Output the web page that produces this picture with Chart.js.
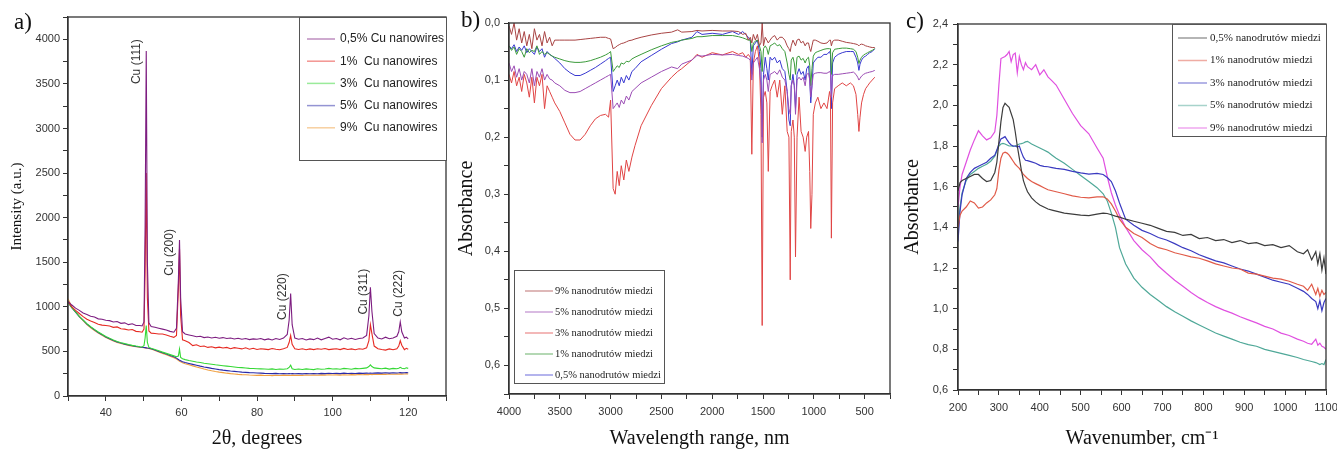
<!DOCTYPE html>
<html>
<head>
<meta charset="utf-8">
<script src="https://cdn.jsdelivr.net/npm/chart.js@4.4.1/dist/chart.umd.min.js"></script>
<style>
  html, body { margin: 0; padding: 0; background: #fff; }
  #wrap { position: relative; width: 1337px; height: 451px; overflow: hidden; }
  .panel { position: absolute; top: 0; height: 451px; }
  .tag { position: absolute; font-family: 'Liberation Serif', 'Times New Roman', serif; font-size: 23px; color: #111; }
</style>
</head>
<body>
<div id="wrap">
  <div class="panel" style="left:0;width:450px"><canvas id="chartA" width="450" height="451"></canvas></div>
  <div class="panel" style="left:450px;width:442px"><canvas id="chartB" width="442" height="451"></canvas></div>
  <div class="panel" style="left:890px;width:447px"><canvas id="chartC" width="447" height="451"></canvas></div>
  <div class="tag" style="left:14px;top:9px">a)</div>
  <div class="tag" style="left:461px;top:7px">b)</div>
  <div class="tag" style="left:906px;top:8px">c)</div>
</div>
<script>
// ---------- a) XRD ----------
const xrdAngle = [
  30, 31, 32, 33, 34, 35, 36, 37, 38, 39,
  40, 41, 42, 43, 44, 45, 46, 47, 48, 49,
  49.6, 50.1, 50.4, 50.7, 51.0, 51.4, 52, 53, 54, 55,
  56, 57, 58, 58.7, 59.2, 59.5, 59.8, 60.3, 61, 62,
  63, 64, 65, 66, 67, 68, 69, 70, 71, 72,
  73, 74, 75, 76, 77, 78, 79, 80, 81, 82,
  83, 84, 85, 86, 87, 88, 88.5, 88.9, 89.3, 90,
  91, 92, 93, 94, 95, 96, 97, 98, 99, 100,
  101, 102, 103, 104, 105, 106, 107, 108, 109, 109.6,
  110.0, 110.4, 111, 112, 113, 114, 115, 116, 117, 117.5,
  117.9, 118.3, 119, 119.5, 120
];
const xrd05 = [
  1060, 1020, 985, 960, 930, 915, 895, 885, 865, 860,
  850, 845, 830, 835, 815, 820, 800, 810, 790, 790,
  785, 830, 1900, 3870, 1500, 820, 780, 770, 760, 750,
  740, 725, 715, 760, 1300, 1750, 1100, 720, 695, 685,
  675, 665, 670, 655, 662, 650, 658, 648, 655, 645,
  650, 640, 648, 636, 645, 632, 640, 636, 644, 630,
  640, 628, 645, 634, 650, 690, 850, 1150, 800, 650,
  636, 645, 628, 640, 632, 650, 630, 645, 660, 636,
  645, 630, 652, 636, 648, 634, 644, 650, 680, 900,
  1220, 950, 700, 650, 640, 660, 642, 650, 670, 720,
  830, 720, 650, 660, 640
];
const xrd1 = [
  1060, 1000, 960, 925, 890, 860, 840, 825, 805, 795,
  790, 785, 770, 775, 755, 750, 740, 745, 725, 720,
  715, 750, 1400, 2500, 1100, 730, 705, 700, 695, 695,
  685, 670, 658, 680, 1200, 1650, 900, 630, 620, 600,
  565, 575, 555, 560, 545, 552, 540, 548, 538, 545,
  530, 542, 535, 528, 540, 525, 535, 522, 530, 526,
  520, 532, 524, 518, 530, 545, 600, 680, 580, 530,
  522, 530, 518, 528, 520, 530, 524, 532, 520, 526,
  530, 520, 534, 522, 528, 518, 530, 524, 540, 620,
  800, 700, 560, 530, 522, 515, 528, 518, 530, 560,
  620, 570, 520, 535, 525
];
const xrd3 = [
  1050, 992, 942, 893, 852, 812, 777, 747, 717, 692,
  667, 647, 627, 612, 598, 587, 577, 568, 560, 553,
  550, 565, 650, 790, 600, 545, 535, 522, 508, 492,
  478, 464, 450, 440, 448, 526, 432, 418, 408, 398,
  390, 382, 375, 368, 362, 356, 350, 345, 340, 335,
  330, 325, 320, 318, 314, 310, 308, 306, 304, 302,
  300, 304, 298, 302, 300, 305, 320, 345, 305, 298,
  302, 298, 304, 300, 296, 305, 300, 303, 310, 302,
  306, 300, 310, 305, 300, 310, 305, 310, 315, 330,
  350, 330, 315, 310, 305, 312, 302, 310, 306, 312,
  322, 312, 306, 316, 310
];
const xrd5 = [
  1050, 990, 940, 890, 850, 805, 772, 742, 712, 688,
  662, 642, 622, 606, 594, 582, 572, 563, 556, 549,
  546, 544, 542, 540, 538, 536, 530, 515, 500, 485,
  470, 455, 440, 425, 410, 400, 395, 385, 375, 365,
  355, 345, 335, 326, 318, 310, 303, 296, 290, 285,
  280, 276, 272, 268, 265, 262, 260, 258, 256, 254,
  253, 251, 254, 250, 252, 249, 253, 250, 252, 249,
  251, 248, 252, 249, 253, 250, 254, 251, 255, 252,
  254, 251, 256, 252, 255, 253, 257, 254, 256, 255,
  258, 255, 257, 259, 256, 260, 257, 261, 258, 260,
  262, 259, 261, 263, 260
];
const xrd9 = [
  1090, 1000, 945, 890, 845, 800, 765, 735, 705, 682,
  657, 637, 617, 601, 589, 578, 568, 559, 552, 546,
  543, 541, 539, 537, 535, 532, 526, 510, 494, 478,
  462, 446, 430, 415, 400, 390, 385, 373, 362, 350,
  338, 326, 314, 302, 292, 283, 275, 268, 262, 256,
  251, 247, 243, 240, 238, 235, 233, 231, 234, 230,
  232, 229, 233, 230, 234, 231, 233, 230, 234, 231,
  233, 230, 235, 232, 236, 233, 237, 234, 238, 235,
  237, 234, 239, 236, 240, 237, 241, 238, 242, 240,
  243, 240, 244, 241, 245, 243, 246, 244, 247, 245,
  248, 245, 247, 249, 247
];
const xrdPeaks = [
  { text: 'Cu (111)', x: 48.2, y: 3750 },
  { text: 'Cu (200)', x: 57.0, y: 1610 },
  { text: 'Cu (220)', x: 86.8, y: 1115 },
  { text: 'Cu (311)', x: 108.3, y: 1170 },
  { text: 'Cu (222)', x: 117.6, y: 1150 }
];

// ---------- b) FTIR ----------
const ftirWn = [
  4000, 3975, 3950, 3925, 3900, 3875, 3850, 3825, 3800, 3775,
  3750, 3725, 3700, 3675, 3650, 3625, 3600, 3575, 3550, 3500,
  3450, 3400, 3350, 3300, 3250, 3200, 3150, 3100, 3050, 3020,
  3000, 2975, 2955, 2935, 2915, 2895, 2870, 2845, 2820, 2790,
  2760, 2700, 2600, 2500, 2400, 2340, 2300, 2200, 2150, 2100,
  2000, 1900, 1800, 1740, 1700, 1670, 1645, 1625, 1610, 1595,
  1575, 1555, 1535, 1520, 1508, 1495, 1478, 1462, 1448, 1430,
  1410, 1385, 1360, 1335, 1310, 1285, 1262, 1245, 1232, 1222,
  1205, 1192, 1180, 1165, 1145, 1125, 1105, 1085, 1070, 1052,
  1040, 1030, 1018, 1005, 985, 960, 930, 900, 870, 845,
  836, 827, 815, 795, 760, 720, 680, 640, 610, 585,
  568, 556, 545, 530, 510, 490, 470, 450, 425, 400
];
const ftir9 = [
  0.005, 0.02, 0.0, 0.03, 0.01, 0.035, 0.015, 0.04, 0.02, 0.045,
  0.01, 0.03, 0.02, 0.04, 0.015, 0.035, 0.025, 0.04, 0.03, 0.03,
  0.03, 0.03, 0.03, 0.029, 0.028, 0.027, 0.026, 0.025, 0.025, 0.027,
  0.028, 0.045, 0.043, 0.04, 0.038, 0.036, 0.035, 0.033, 0.031, 0.03,
  0.028, 0.025, 0.021, 0.018, 0.016, 0.012, 0.016, 0.015, 0.013, 0.014,
  0.013, 0.014, 0.014, 0.015, 0.02, 0.018, 0.03, 0.025, 0.035, 0.02,
  0.03, 0.02, 0.04, 0.035, 0.0, 0.04, 0.025, 0.03, 0.035, 0.03,
  0.025, 0.022, 0.03, 0.025, 0.025, 0.03, 0.04, 0.045, 0.05, 0.04,
  0.03, 0.035, 0.04, 0.03, 0.028, 0.035, 0.032, 0.04, 0.035, 0.035,
  0.045, 0.05, 0.04, 0.03, 0.03, 0.032, 0.035, 0.036, 0.035, 0.03,
  0.03, 0.04, 0.032, 0.03, 0.03, 0.032, 0.034, 0.035, 0.036, 0.037,
  0.038, 0.04, 0.038, 0.037, 0.038, 0.04, 0.041, 0.042, 0.043, 0.043
];
const ftir5 = [
  0.07, 0.085, 0.075, 0.095, 0.08, 0.1, 0.085, 0.09, 0.105, 0.08,
  0.11, 0.085, 0.095, 0.08, 0.1, 0.09, 0.098, 0.1, 0.105, 0.11,
  0.118, 0.122, 0.122, 0.12, 0.115, 0.11, 0.105, 0.1, 0.095, 0.092,
  0.09, 0.15, 0.145, 0.14, 0.148, 0.135, 0.142, 0.128, 0.135, 0.12,
  0.115, 0.105, 0.095, 0.085, 0.077, 0.08, 0.072, 0.065, 0.057, 0.058,
  0.055, 0.056, 0.055, 0.057, 0.058, 0.06, 0.062, 0.065, 0.1, 0.07,
  0.065, 0.06, 0.08, 0.11, 0.21, 0.1, 0.09, 0.1, 0.12, 0.09,
  0.088, 0.085, 0.09, 0.082, 0.095, 0.1, 0.12, 0.15, 0.16, 0.11,
  0.1, 0.11, 0.16, 0.1, 0.095, 0.1, 0.095, 0.11, 0.09, 0.088,
  0.1, 0.13, 0.11, 0.09, 0.088, 0.087, 0.087, 0.088, 0.088, 0.085,
  0.088, 0.13, 0.092, 0.09, 0.09, 0.089, 0.088, 0.087, 0.086, 0.09,
  0.095, 0.1, 0.097, 0.093, 0.09, 0.088, 0.087, 0.086, 0.085, 0.083
];
const ftir3 = [
  0.09, 0.105, 0.085, 0.11, 0.095, 0.12, 0.09, 0.105, 0.13, 0.095,
  0.14, 0.095, 0.11, 0.09, 0.15, 0.11, 0.12, 0.13, 0.14, 0.155,
  0.175, 0.195, 0.205, 0.205, 0.195, 0.18, 0.168, 0.162, 0.16, 0.165,
  0.135, 0.29, 0.30, 0.26, 0.285, 0.25, 0.275, 0.24, 0.26, 0.235,
  0.215, 0.18, 0.145, 0.115, 0.095, 0.085, 0.08, 0.065, 0.055, 0.06,
  0.052, 0.056, 0.05, 0.055, 0.052, 0.06, 0.055, 0.06, 0.23, 0.07,
  0.05, 0.04, 0.07, 0.16, 0.53, 0.13, 0.12, 0.14, 0.26, 0.12,
  0.11, 0.1, 0.13, 0.1, 0.16, 0.11, 0.19, 0.2, 0.45, 0.19,
  0.17, 0.2, 0.41, 0.2, 0.13, 0.19, 0.2, 0.225, 0.2, 0.19,
  0.26, 0.36, 0.3, 0.16, 0.14, 0.13, 0.15, 0.14, 0.15, 0.12,
  0.13, 0.377, 0.14, 0.115, 0.11, 0.105, 0.11, 0.105, 0.11, 0.125,
  0.16, 0.19, 0.165, 0.14, 0.125, 0.115, 0.11, 0.105, 0.1, 0.095
];
const ftir1 = [
  0.04, 0.048, 0.042, 0.055, 0.045, 0.05, 0.06, 0.045, 0.052, 0.048,
  0.05, 0.04, 0.055, 0.05, 0.055, 0.052, 0.055, 0.058, 0.06, 0.063,
  0.066, 0.068, 0.069, 0.069, 0.068, 0.066, 0.063, 0.06, 0.056, 0.053,
  0.05, 0.085, 0.08, 0.075, 0.078, 0.07, 0.072, 0.067, 0.068, 0.063,
  0.06, 0.055, 0.047, 0.04, 0.034, 0.032, 0.03, 0.027, 0.024, 0.024,
  0.022, 0.022, 0.022, 0.024, 0.026, 0.028, 0.03, 0.03, 0.05, 0.035,
  0.032, 0.03, 0.04, 0.05, 0.085, 0.045, 0.04, 0.045, 0.055, 0.04,
  0.038, 0.035, 0.04, 0.038, 0.045, 0.05, 0.07, 0.09, 0.1, 0.065,
  0.06, 0.07, 0.09, 0.06, 0.058, 0.065, 0.062, 0.07, 0.063, 0.06,
  0.075, 0.11, 0.08, 0.058, 0.052, 0.05, 0.048, 0.046, 0.045, 0.045,
  0.045, 0.09, 0.052, 0.046, 0.045, 0.044, 0.044, 0.045, 0.046, 0.05,
  0.06, 0.071, 0.065, 0.06, 0.056, 0.054, 0.052, 0.05, 0.048, 0.045
];
const ftir05 = [
  0.04, 0.045, 0.038, 0.05, 0.042, 0.048, 0.04, 0.052, 0.045, 0.05,
  0.055, 0.042, 0.05, 0.045, 0.06, 0.05, 0.055, 0.058, 0.062, 0.07,
  0.08, 0.087, 0.092, 0.092, 0.088, 0.083, 0.078, 0.072, 0.066, 0.062,
  0.06, 0.12, 0.11, 0.1, 0.11, 0.095, 0.105, 0.092, 0.1, 0.085,
  0.08, 0.068, 0.057, 0.046, 0.036, 0.033, 0.03, 0.025, 0.015, 0.02,
  0.018, 0.02, 0.015, 0.02, 0.015, 0.02, 0.025, 0.03, 0.09, 0.04,
  0.035, 0.03, 0.05, 0.08, 0.2, 0.09, 0.06, 0.08, 0.1, 0.06,
  0.065, 0.06, 0.07, 0.065, 0.08, 0.085, 0.12, 0.17, 0.18, 0.11,
  0.09, 0.11, 0.15, 0.09, 0.08, 0.09, 0.085, 0.1, 0.08, 0.075,
  0.1, 0.14, 0.11, 0.07, 0.065, 0.06, 0.06, 0.055, 0.055, 0.05,
  0.055, 0.15, 0.07, 0.06, 0.055, 0.052, 0.05, 0.05, 0.05, 0.06,
  0.07, 0.083, 0.072, 0.065, 0.06, 0.058, 0.055, 0.052, 0.05, 0.045
];

// ---------- c) UV-Vis ----------
const uvWn = [
  200, 205, 210, 220, 230, 240, 250, 260, 270, 280,
  290, 295, 300, 305, 310, 315, 320, 325, 330, 335,
  340, 345, 350, 355, 360, 365, 370, 380, 390, 400,
  410, 420, 430, 440, 460, 480, 500, 520, 540, 555,
  565, 575, 585, 595, 610, 630, 650, 670, 690, 710,
  730, 750, 770, 790, 810, 830, 850, 870, 890, 910,
  930, 950, 970, 990, 1010, 1030, 1045, 1055, 1065, 1075,
  1080, 1085, 1090, 1095, 1100
];
const uv05 = [
  1.58, 1.62, 1.63, 1.64, 1.65, 1.66, 1.66, 1.64, 1.625, 1.63,
  1.67, 1.72, 1.82, 1.92, 1.99, 2.01, 2.0, 1.99, 1.96, 1.93,
  1.87, 1.8, 1.74, 1.68, 1.63, 1.6, 1.575, 1.545, 1.525, 1.51,
  1.5, 1.49, 1.485, 1.48, 1.47, 1.465, 1.46, 1.458, 1.465, 1.47,
  1.468, 1.462, 1.455, 1.45, 1.44, 1.43, 1.42, 1.41, 1.395, 1.38,
  1.375, 1.36, 1.365, 1.345, 1.35, 1.335, 1.34, 1.325, 1.335, 1.32,
  1.325, 1.31, 1.315, 1.3, 1.31, 1.28, 1.27, 1.29, 1.24, 1.28,
  1.22, 1.27, 1.19, 1.25, 1.17
];
const uv1 = [
  1.4, 1.46, 1.48, 1.5, 1.53, 1.52, 1.495, 1.5, 1.52, 1.535,
  1.56, 1.59, 1.68, 1.74, 1.765, 1.77, 1.765, 1.755, 1.74, 1.725,
  1.71, 1.7, 1.69, 1.675, 1.66, 1.65, 1.64, 1.625, 1.615, 1.605,
  1.595, 1.585, 1.58, 1.575, 1.565, 1.555, 1.548, 1.545, 1.55, 1.55,
  1.54, 1.515, 1.48, 1.44, 1.4, 1.37, 1.35, 1.32, 1.3, 1.29,
  1.275, 1.265, 1.255, 1.248, 1.235, 1.22, 1.21, 1.2, 1.195, 1.175,
  1.17, 1.16, 1.15, 1.145, 1.135, 1.12, 1.11, 1.09, 1.12, 1.07,
  1.1, 1.06, 1.09, 1.07, 1.08
];
const uv3 = [
  1.33, 1.48, 1.56, 1.64, 1.67, 1.69, 1.7, 1.71, 1.72, 1.74,
  1.755, 1.78, 1.81, 1.835, 1.84, 1.846, 1.83, 1.815, 1.805, 1.8,
  1.8, 1.795, 1.8, 1.77, 1.745, 1.73, 1.728, 1.722, 1.715, 1.705,
  1.7, 1.698, 1.694, 1.69, 1.685, 1.675, 1.668, 1.662, 1.665, 1.66,
  1.645, 1.625, 1.58, 1.52, 1.44, 1.41, 1.385, 1.37, 1.35, 1.338,
  1.32, 1.3, 1.285, 1.265, 1.25, 1.235, 1.225, 1.21, 1.195, 1.185,
  1.17, 1.155, 1.14, 1.13, 1.12, 1.1, 1.085, 1.07, 1.05, 1.035,
  1.0, 1.04, 0.99, 1.03, 1.05
];
const uv5 = [
  1.4, 1.5, 1.57, 1.63, 1.66, 1.675, 1.69, 1.7, 1.71, 1.725,
  1.75, 1.775, 1.8, 1.81, 1.813, 1.81, 1.805, 1.8, 1.8, 1.798,
  1.8, 1.805, 1.81, 1.812, 1.815, 1.82, 1.823, 1.81, 1.8, 1.79,
  1.78, 1.77, 1.755, 1.74, 1.715, 1.685, 1.655, 1.625, 1.595, 1.565,
  1.53, 1.47, 1.4, 1.3, 1.22, 1.15, 1.105, 1.07, 1.04, 1.01,
  0.985, 0.963, 0.94, 0.92, 0.9, 0.88, 0.865, 0.85, 0.835, 0.823,
  0.815, 0.8, 0.79, 0.78, 0.77, 0.76, 0.75, 0.745, 0.74, 0.735,
  0.73, 0.725, 0.73, 0.725, 0.75
];
const uv9 = [
  1.5, 1.6, 1.66, 1.72, 1.78, 1.83, 1.875, 1.85, 1.83, 1.84,
  1.87, 1.95, 2.1, 2.23, 2.235, 2.24, 2.25, 2.265, 2.215, 2.25,
  2.257, 2.16, 2.24, 2.2, 2.175, 2.21, 2.19, 2.175, 2.2, 2.15,
  2.175, 2.14, 2.12, 2.1, 2.03, 1.96, 1.9, 1.86, 1.79, 1.74,
  1.65, 1.57, 1.51, 1.46, 1.4, 1.335, 1.29, 1.255, 1.21, 1.174,
  1.14, 1.11, 1.08, 1.053, 1.03, 1.01, 0.993, 0.978, 0.96, 0.945,
  0.93, 0.913, 0.9, 0.88, 0.868, 0.85, 0.84, 0.83, 0.825, 0.85,
  0.82, 0.83, 0.815, 0.81, 0.8
];

const toPoints = (xs, ys) => xs.map((x, i) => ({ x: x, y: ys[i] }));
const comma = v => v.toFixed(1).replace('.', ',');
const near = (v, step) => Math.abs(v / step - Math.round(v / step)) < 1e-6;

const SANS = "'Liberation Sans', Arial, sans-serif";
const SERIF = "'Liberation Serif', 'Times New Roman', serif";
const AXIS = '#333';

// frame around the plot, rotated peak labels and the boxed legend
const panelDecor = {
  id: 'panelDecor',
  afterDraw(chart, args, opts) {
    const ctx = chart.ctx, a = chart.chartArea;
    ctx.save();
    ctx.strokeStyle = AXIS;
    ctx.lineWidth = 1.3;
    ctx.strokeRect(a.left, a.top, a.right - a.left, a.bottom - a.top);

    (opts.peaks || []).forEach(p => {
      const px = chart.scales.x.getPixelForValue(p.x);
      const py = chart.scales.y.getPixelForValue(p.y);
      ctx.save();
      ctx.translate(px, py);
      ctx.rotate(-Math.PI / 2);
      ctx.font = '12px ' + SANS;
      ctx.fillStyle = '#333';
      ctx.textAlign = 'center';
      ctx.textBaseline = 'middle';
      ctx.fillText(p.text, 0, 0);
      ctx.restore();
    });

    const L = opts.legend;
    if (L) {
      ctx.fillStyle = '#fff';
      ctx.fillRect(L.left, L.top, L.width, L.height);
      ctx.strokeStyle = '#555';
      ctx.lineWidth = 1;
      ctx.strokeRect(L.left + 0.5, L.top + 0.5, L.width, L.height);
      L.order.forEach((di, k) => {
        const ds = chart.data.datasets[di];
        const y = L.firstRow + k * L.rowGap;
        ctx.globalAlpha = 0.5;
        ctx.strokeStyle = ds.borderColor;
        ctx.lineWidth = 1.5;
        ctx.beginPath();
        ctx.moveTo(L.lineX, y);
        ctx.lineTo(L.lineX + L.lineLen, y);
        ctx.stroke();
        ctx.globalAlpha = 1;
        ctx.fillStyle = '#222';
        ctx.font = L.font;
        ctx.textAlign = 'left';
        ctx.textBaseline = 'middle';
        ctx.fillText(ds.label, L.textX, y);
      });
    }
    ctx.restore();
  }
};

function line(label, xs, ys, color, width) {
  return { label: label, data: toPoints(xs, ys), borderColor: color, borderWidth: width || 1,
           pointRadius: 0, tension: 0, fill: false };
}

function axis(o) {
  return {
    type: 'linear',
    position: o.position,
    min: o.min, max: o.max,
    reverse: !!o.reverse,
    afterFit: s => {
      if (o.position === 'left') { s.width = o.size; s.paddingTop = 0; s.paddingBottom = 0; }
      else { s.height = o.size; s.paddingLeft = 0; s.paddingRight = 0; }
    },
    border: { color: AXIS, width: 1.3 },
    grid: { drawOnChartArea: false, drawTicks: true, tickLength: 5, tickColor: AXIS, color: AXIS },
    ticks: {
      stepSize: o.step, autoSkip: false, maxRotation: 0, includeBounds: false,
      padding: o.pad, color: '#333', font: { family: SANS, size: 11 },
      callback: o.label
    },
    title: { display: true, text: o.title, color: '#111',
             font: { family: SERIF, size: o.titleSize || 20 }, padding: { top: o.titlePad || 0, bottom: 0 } }
  };
}

function build(id, datasets, x, y, padding, decor) {
  return new Chart(document.getElementById(id), {
    type: 'line',
    data: { datasets: datasets },
    options: {
      responsive: false,
      animation: false,
      events: [],
      layout: { padding: padding },
      plugins: { legend: { display: false }, tooltip: { enabled: false }, panelDecor: decor },
      scales: { x: x, y: y }
    },
    plugins: [panelDecor]
  });
}

// a)
build('chartA', [
  line('0,5% Cu nanowires', xrdAngle, xrd05, '#7d1d80', 1.1),
  line('1%  Cu nanowires', xrdAngle, xrd1, '#e62a22', 1.1),
  line('3%  Cu nanowires', xrdAngle, xrd3, '#35d835', 1.1),
  line('5%  Cu nanowires', xrdAngle, xrd5, '#2a2aa8', 1.1),
  line('9%  Cu nanowires', xrdAngle, xrd9, '#f0a040', 1.1)
],
  axis({ position: 'bottom', min: 30, max: 130, step: 10, size: 55, pad: 5,
         label: v => (near(v, 20) && v >= 40 && v <= 120) ? String(v) : '',
         title: '2θ, degrees' }),
  axis({ position: 'left', min: 0, max: 4250, step: 250, size: 68, pad: 3,
         label: v => near(v, 500) ? String(v) : '',
         title: 'Intensity (a.u.)', titleSize: 15, titlePad: 8 }),
  { left: 0, right: 4, top: 17, bottom: 0 },
  { peaks: xrdPeaks,
    legend: { left: 299, top: 17, width: 147, height: 143, firstRow: 39, rowGap: 22.2,
              lineX: 307, lineLen: 28, textX: 340, font: '12px ' + SANS, order: [0, 1, 2, 3, 4] } }
);

// b)
build('chartB', [
  line('9% nanodrutów miedzi', ftirWn, ftir9, '#a84444', 1),
  line('5% nanodrutów miedzi', ftirWn, ftir5, '#9b4cb4', 1),
  line('3% nanodrutów miedzi', ftirWn, ftir3, '#e04444', 1),
  line('1% nanodrutów miedzi', ftirWn, ftir1, '#3a9a3a', 1),
  line('0,5% nanodrutów miedzi', ftirWn, ftir05, '#3838d0', 1)
],
  axis({ position: 'bottom', min: 250, max: 4000, reverse: true, step: 250, size: 57, pad: 6,
         label: v => (near(v, 500) && v >= 500) ? String(v) : '',
         title: 'Wavelength range, nm' }),
  axis({ position: 'left', min: 0, max: 0.65, reverse: true, step: 0.05, size: 59, pad: 4,
         label: v => near(v, 0.1) ? comma(v) : '',
         title: 'Absorbance', titlePad: 5 }),
  { left: 0, right: 2, top: 23, bottom: 0 },
  { legend: { left: 64, top: 270, width: 150, height: 113, firstRow: 291, rowGap: 21,
              lineX: 75, lineLen: 28, textX: 105, font: '10.5px ' + SERIF, order: [0, 1, 2, 3, 4] } }
);

// c)
build('chartC', [
  line('0,5% nanodrutów miedzi', uvWn, uv05, '#3c3c3c', 1.2),
  line('1% nanodrutów miedzi', uvWn, uv1, '#e05a48', 1.2),
  line('3% nanodrutów miedzi', uvWn, uv3, '#3a3ac0', 1.2),
  line('5% nanodrutów miedzi', uvWn, uv5, '#4fa898', 1.2),
  line('9% nanodrutów miedzi', uvWn, uv9, '#e050e0', 1.2)
],
  axis({ position: 'bottom', min: 200, max: 1100, step: 50, size: 61, pad: 6,
         label: v => near(v, 100) ? String(v) : '',
         title: 'Wavenumber, cm⁻¹' }),
  axis({ position: 'left', min: 0.6, max: 2.4, step: 0.1, size: 68, pad: 5,
         label: v => near(v, 0.2) ? comma(v) : '',
         title: 'Absorbance', titlePad: 11 }),
  { left: 0, right: 11, top: 24, bottom: 0 },
  { legend: { left: 282, top: 24, width: 154, height: 112, firstRow: 38, rowGap: 22.5,
              lineX: 288, lineLen: 29, textX: 320, font: '11px ' + SERIF, order: [0, 1, 2, 3, 4] } }
);
</script>
</body>
</html>
